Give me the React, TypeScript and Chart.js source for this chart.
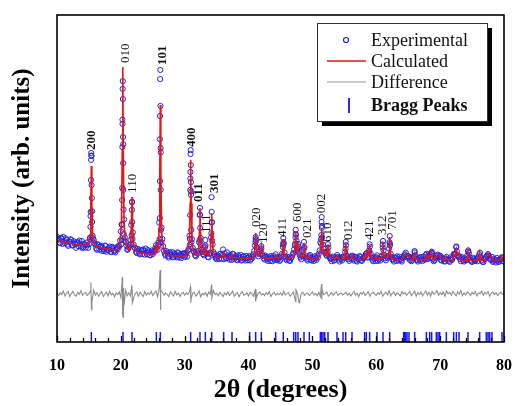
import React, { useEffect, useRef } from "react";
import { Chart, registerables } from "chart.js";

Chart.register(...registerables);

// ---------- data ----------
// observed scan: evenly stepped 2θ scan starting at SCAN_START with SCAN_STEP
const SCAN_START = 10;
const SCAN_STEP = 0.25;
const observedScan = [
  32.2, 31.3, 30.2, 31.6, 32.1, 30.2, 31.2, 29.4, 30.7, 31.2, 29.6, 30.1, 28.8, 30.4, 31.0, 29.4, 28.7, 30.0, 28.9, 29.6,
  29.9, 38.5, 40.0, 31.2, 29.8, 28.2, 29.6, 29.1, 27.9, 28.4, 29.5, 27.6, 28.1, 29.2, 27.5, 28.7, 27.8, 28.9, 28.3, 29.2,
  33.8, 68.0, 37.5, 30.6, 28.2, 28.9, 31.2, 42.8, 29.8, 28.6, 27.2, 28.0, 26.8, 27.9, 28.3, 26.7, 27.4, 28.1, 26.6, 27.5,
  26.9, 27.8, 29.6, 28.2, 36.5, 58.0, 31.5, 27.9, 26.4, 27.3, 25.8, 26.9, 27.5, 26.1, 26.8, 25.9, 27.2, 26.5, 25.7, 26.9,
  26.0, 27.1, 27.9, 32.5, 46.0, 28.8, 27.4, 26.2, 27.0, 30.5, 31.8, 27.6, 26.5, 29.5, 27.0, 25.9, 27.3, 36.5, 27.5, 26.1,
  25.3, 26.4, 26.9, 25.5, 28.3, 27.1, 25.6, 26.5, 25.2, 26.0, 27.0, 25.4, 26.3, 25.0, 25.9, 26.6, 25.1, 26.2, 24.9, 25.7,
  25.8, 24.9, 26.1, 26.8, 29.5, 29.0, 26.2, 26.9, 28.6, 26.4, 25.2, 26.0, 24.8, 25.6, 26.3, 24.7, 25.5, 26.8, 25.0, 25.9,
  25.2, 27.0, 30.0, 26.1, 25.0, 25.8, 24.8, 25.9, 27.2, 29.6, 31.0, 29.2, 26.6, 25.3, 26.4, 29.0, 25.8, 24.9, 26.2, 25.1,
  25.9, 24.8, 25.6, 26.4, 27.0, 30.5, 35.5, 28.6, 27.3, 26.4, 28.9, 25.6, 24.7, 25.8, 25.1, 26.0, 25.9, 24.6, 25.4, 26.1,
  25.7, 29.6, 25.9, 24.8, 25.5, 26.4, 24.9, 25.8, 24.6, 25.3, 26.0, 24.8, 25.6, 26.3, 27.2, 26.0, 29.2, 25.9, 24.7, 25.5,
  25.9, 24.8, 25.4, 26.1, 29.8, 26.6, 25.0, 25.7, 28.6, 27.0, 25.3, 24.6, 25.6, 26.2, 24.9, 25.4, 24.6, 26.0, 26.8, 25.9,
  26.3, 25.1, 24.7, 25.6, 27.4, 25.2, 24.6, 25.5, 26.0, 24.8, 25.3, 26.6, 25.4, 26.2, 25.7, 27.0, 24.7, 25.6, 26.5, 25.9,
  26.4, 24.9, 25.3, 24.6, 26.0, 25.2, 24.5, 25.4, 25.9, 26.8, 29.0, 26.5, 26.2, 24.7, 25.5, 24.6, 25.2, 26.5, 27.2, 25.1,
  24.5, 25.4, 24.8, 25.6, 26.0, 27.3, 25.0, 24.4, 25.3, 26.2, 26.9, 25.8, 25.1, 24.5, 25.4, 24.3, 25.0, 24.6, 25.3, 25.8, 24.6,
];
// interleaved second pass of the scan, starting half a step later
const SCAN2_START = 10.125;
const observedScan2 = [
  31.5, 30.4, 31.9, 30.0, 30.9, 31.7, 29.8, 30.6, 31.4, 29.5, 30.8, 29.9, 30.5, 29.2, 30.1, 30.9, 29.0, 29.8, 30.4, 28.8,
  31.5, 57.0, 31.8, 30.2, 28.6, 29.9, 28.3, 29.4, 28.9, 27.8, 29.3, 28.2, 28.8, 27.6, 29.1, 28.0, 27.4, 28.6, 29.4, 31.0,
  36.0, 60.5, 32.0, 29.5, 28.4, 29.6, 35.8, 33.5, 28.9, 27.6, 28.5, 27.1, 28.2, 26.9, 27.8, 28.6, 26.8, 27.7, 26.5, 28.0,
  27.5, 28.6, 28.9, 30.4, 62.0, 35.0, 29.3, 27.0, 27.8, 26.2, 27.4, 26.6, 25.9, 27.1, 26.3, 27.4, 25.8, 26.9, 26.4, 27.2,
  26.6, 26.1, 28.4, 50.0, 31.5, 27.8, 26.5, 27.4, 27.9, 39.0, 28.2, 26.9, 27.6, 27.2, 26.0, 27.0, 32.0, 29.8, 26.9, 25.6,
  26.2, 25.4, 27.0, 26.6, 25.3, 26.0, 27.4, 25.7, 26.4, 25.1, 26.8, 25.9, 25.2, 26.5, 25.6, 24.9, 26.1, 25.4, 26.3, 25.0,
  26.3, 25.3, 25.8, 27.8, 31.5, 27.0, 27.5, 28.0, 26.9, 25.6, 26.4, 25.3, 26.0, 24.8, 25.7, 26.2, 25.1, 26.0, 25.4, 24.8,
  26.2, 29.0, 27.4, 25.5, 26.0, 24.9, 25.7, 26.6, 28.3, 33.0, 28.0, 27.3, 25.9, 26.3, 28.2, 26.5, 25.3, 25.9, 26.6, 24.9,
  25.4, 26.2, 25.1, 25.9, 28.0, 31.5, 29.8, 27.5, 26.7, 27.6, 26.2, 25.4, 26.1, 24.9, 25.7, 26.6, 25.2, 25.8, 24.9, 25.9,
  27.5, 26.5, 25.3, 26.0, 26.2, 25.4, 26.1, 24.9, 25.7, 26.3, 25.0, 25.6, 26.0, 26.9, 25.8, 27.5, 27.0, 25.2, 25.9, 24.8,
  26.5, 25.5, 24.9, 26.4, 28.0, 25.6, 26.2, 26.3, 30.0, 26.0, 25.2, 25.9, 24.8, 25.5, 26.1, 25.0, 25.7, 26.5, 27.3, 26.2,
  25.8, 25.9, 25.0, 26.2, 26.5, 25.0, 25.8, 24.9, 25.5, 26.1, 25.2, 27.0, 25.5, 26.8, 27.3, 25.4, 25.0, 26.2, 26.7, 26.3,
  25.1, 25.8, 24.7, 25.5, 25.4, 24.8, 25.9, 25.1, 26.9, 27.0, 27.8, 26.0, 25.4, 26.0, 24.9, 25.6, 25.0, 27.6, 25.8, 24.7,
  25.8, 24.9, 25.3, 24.7, 26.8, 25.9, 24.6, 25.5, 25.6, 26.5, 26.4, 25.2, 26.0, 24.8, 25.1, 25.7, 24.5, 25.2, 25.9, 24.7,
];

// extra observed points measured along the steep peak flanks [2θ, intensity]
const observedPeakPoints: [number, number][] = [
  [15.20, 32.0], [15.24, 35.2], [15.28, 39.8], [15.32, 49.5], [15.34, 55.7], [15.36, 57.8], [15.40, 56.9], [15.42, 48.0], [15.45, 44.0], [15.50, 36.7], [15.56, 32.5],
  [20.05, 29.9], [20.12, 31.2], [20.16, 35.8], [20.20, 43.4], [20.22, 47.1], [20.24, 59.6], [20.26, 66.7], [20.28, 77.4], [20.30, 79.8], [20.32, 74.3], [20.34, 62.7], [20.36, 54.7], [20.38, 46.5], [20.42, 40.5], [20.46, 33.0], [20.55, 31.0],
  [21.65, 30.0], [21.70, 32.7], [21.73, 40.4], [21.75, 42.8], [21.78, 36.7], [21.82, 31.5],
  [25.95, 29.8], [26.06, 31.5], [26.10, 37.9], [26.12, 49.2], [26.14, 69.1], [26.16, 80.4], [26.18, 83.2], [26.20, 72.2], [26.22, 59.3], [26.24, 46.5], [26.28, 34.3], [26.34, 30.5],
  [30.78, 29.7], [30.82, 31.5], [30.85, 38.8], [30.87, 46.5], [30.89, 52.0], [30.91, 57.5], [30.93, 58.7], [30.95, 54.1], [30.97, 48.9], [30.99, 45.0], [31.02, 34.3], [31.06, 30.5],
  [32.34, 31.2], [32.37, 38.8], [32.39, 41.0], [32.42, 34.9], [32.46, 30.0],
  [33.20, 29.0], [33.23, 31.2],
  [34.18, 33.3], [34.20, 44.3], [34.22, 39.8], [34.24, 36.7], [34.28, 31.0],
  [41.08, 30.5], [41.11, 32.1], [41.15, 31.0], [42.00, 29.3],
  [45.40, 29.8], [45.44, 31.8], [45.48, 30.5],
  [47.30, 30.0], [47.35, 32.0], [47.38, 34.3], [47.42, 32.8], [47.70, 28.5], [47.75, 30.0],
  [48.65, 28.8], [48.68, 30.6],
  [51.35, 30.0], [51.40, 32.7], [51.43, 36.7], [51.45, 38.2], [51.48, 34.9], [51.52, 32.0],
  [52.44, 29.9], [55.18, 28.5], [55.21, 30.6], [58.90, 28.0], [58.96, 29.9],
  [61.00, 28.9], [61.05, 30.9], [62.06, 30.5], [62.10, 32.4], [62.14, 29.5],
  [66.00, 27.8], [68.70, 27.6], [72.55, 29.2], [74.40, 28.0],
];

// calculated (refined) profile [2θ, intensity]
const calculatedProfile: [number, number][] = [
  [10.0, 31.0], [11.0, 30.6], [12.0, 30.2], [13.0, 29.8], [14.0, 29.5],
  [14.88, 29.7], [15.18, 32.7], [15.30, 42.6], [15.38, 53.8], [15.46, 42.6], [15.58, 32.7], [15.88, 29.6],
  [16.5, 29.0], [17.5, 28.6], [18.5, 28.3], [19.3, 28.0],
  [19.80, 29.5], [20.10, 36.2], [20.22, 58.8], [20.30, 84.1], [20.38, 58.8], [20.50, 36.2], [20.80, 29.4],
  [21.25, 28.0], [21.55, 30.0], [21.67, 36.7], [21.75, 44.3], [21.83, 36.7], [21.95, 30.0], [22.25, 28.0],
  [22.8, 27.3], [23.8, 27.1], [24.8, 26.9],
  [25.30, 27.0], [25.50, 29.5], [25.68, 27.6],
  [25.86, 28.5], [25.98, 33.7], [26.10, 51.9], [26.18, 72.5], [26.26, 51.9], [26.38, 33.7], [26.68, 28.2],
  [27.2, 26.6], [28.2, 26.4], [29.2, 26.3], [30.0, 26.2],
  [30.43, 27.1], [30.73, 30.6], [30.85, 42.4], [30.93, 55.7], [31.01, 42.4], [31.13, 30.6], [31.43, 27.1],
  [31.95, 26.6], [32.19, 28.3], [32.31, 34.3], [32.39, 41.0], [32.47, 34.3], [32.59, 28.3], [32.85, 26.8],
  [33.05, 26.8], [33.15, 27.8], [33.23, 29.7], [33.31, 27.8], [33.45, 27.0],
  [33.80, 26.5], [34.02, 28.0], [34.14, 33.4], [34.22, 39.4], [34.30, 33.4], [34.42, 28.0], [34.72, 26.4],
  [35.2, 25.9], [35.9, 25.9], [36.10, 27.2], [36.3, 25.9], [37.2, 25.8], [37.41, 26.8], [37.6, 25.8],
  [38.5, 25.7], [39.5, 25.6], [40.3, 25.6],
  [40.75, 26.0], [40.95, 27.5], [41.04, 30.0], [41.11, 33.3], [41.18, 30.0], [41.30, 27.5],
  [41.55, 26.5], [41.85, 27.2], [41.94, 28.0], [42.00, 29.1], [42.08, 27.6], [42.30, 25.9],
  [43.0, 25.5], [43.6, 25.5], [44.05, 25.6], [44.24, 26.6], [44.45, 25.6],
  [45.05, 25.8], [45.28, 27.2], [45.37, 29.3], [45.44, 31.5], [45.51, 29.3], [45.62, 27.0], [45.90, 25.7],
  [46.3, 25.4], [46.8, 25.8], [47.06, 27.3], [47.20, 27.8], [47.30, 30.5], [47.38, 33.9], [47.46, 30.5], [47.58, 28.5], [47.74, 29.5], [47.85, 27.2], [48.1, 26.0],
  [48.45, 25.9], [48.60, 27.5], [48.68, 30.3], [48.76, 27.5], [48.95, 26.0],
  [49.35, 25.5], [49.52, 26.3], [49.7, 25.5], [50.2, 25.3], [50.6, 25.3],
  [50.9, 25.7], [51.15, 27.0], [51.30, 29.5], [51.38, 31.8], [51.45, 34.6], [51.52, 31.5], [51.66, 28.5], [51.80, 27.5], [51.92, 27.6], [52.10, 26.5],
  [52.30, 26.6], [52.44, 29.7], [52.55, 27.2], [52.8, 25.8],
  [53.65, 25.4], [53.85, 26.3], [54.05, 25.4], [54.6, 25.3], [54.79, 26.0], [54.95, 25.4],
  [55.08, 26.5], [55.21, 30.3], [55.32, 26.8], [55.55, 25.4],
  [56.0, 25.3], [56.20, 26.5], [56.4, 25.3], [57.0, 25.2], [57.5, 25.2],
  [57.95, 25.3], [58.18, 26.2], [58.30, 25.8], [58.44, 27.5], [58.60, 26.0], [58.85, 26.8], [58.96, 29.7], [59.07, 26.8], [59.3, 25.4],
  [59.95, 25.3], [60.11, 26.3], [60.3, 25.3],
  [60.85, 25.5], [60.97, 27.3], [61.05, 30.6], [61.13, 27.3], [61.35, 25.8],
  [61.9, 26.0], [62.02, 28.0], [62.10, 32.1], [62.18, 28.0], [62.4, 25.6],
  [63.0, 25.2], [63.5, 25.1],
  [64.0, 25.2], [64.29, 26.0], [64.45, 26.4], [64.60, 27.0], [64.81, 26.5], [65.12, 26.0], [65.4, 25.2],
  [65.8, 25.2], [66.01, 27.0], [66.2, 25.2], [66.8, 25.1],
  [67.6, 25.1], [67.84, 26.8], [68.0, 25.6], [68.36, 26.4], [68.50, 26.0], [68.67, 27.5], [68.85, 25.4],
  [69.2, 25.2], [69.40, 26.4], [69.67, 26.6], [69.93, 26.8], [70.2, 25.2],
  [70.8, 25.1], [70.97, 26.0], [71.15, 25.1], [71.5, 25.1],
  [71.95, 25.2], [72.12, 26.8], [72.30, 26.3], [72.54, 28.5], [72.75, 26.5], [72.96, 26.8], [73.2, 25.1],
  [73.7, 25.0], [74.15, 25.0], [74.36, 27.8], [74.55, 25.1], [75.2, 25.0],
  [76.0, 25.0], [76.19, 27.2], [76.4, 25.0],
  [77.05, 25.0], [77.23, 26.3], [77.50, 27.0], [77.76, 26.5], [78.12, 26.0], [78.35, 25.0],
  [79.0, 25.0], [79.5, 25.0], [79.69, 26.0], [79.9, 25.0], [80.0, 25.0],
];

// difference curve (observed - calculated, offset), same scan grid as observedScan
const differenceScan = [
  15.3, 14.2, 15.0, 14.5, 15.6, 14.1, 14.9, 15.4, 13.9, 14.8, 15.5, 14.4, 14.0, 15.2, 14.6, 15.7, 14.3, 14.9, 15.1, 14.2,
  14.8, 15.6, 12.6, 15.9, 14.3, 15.1, 14.0, 14.7, 15.4, 13.9, 14.6, 15.2, 14.1, 15.5, 14.4, 14.9, 13.8, 15.0, 14.5, 15.3,
  13.6, 17.5, 11.2, 15.8, 14.2, 15.0, 14.1, 15.9, 13.4, 14.8, 15.3, 14.0, 15.2, 14.6, 13.9, 15.4, 14.3, 15.0, 14.5, 15.5,
  14.2, 14.9, 15.6, 13.8, 16.4, 12.0, 15.2, 14.3, 15.0, 14.6, 13.9, 15.3, 14.7, 14.1, 15.5, 14.4, 15.0, 13.9, 14.8, 15.2,
  14.3, 15.1, 14.5, 15.4, 13.2, 14.9, 15.2, 14.0, 14.7, 15.6, 13.8, 14.9, 14.4, 15.1, 14.0, 15.3, 14.6, 14.2, 15.8, 14.5,
  14.9, 14.1, 15.2, 14.6, 13.9, 15.0, 14.4, 15.3, 14.2, 14.8, 15.5, 14.0, 14.7, 15.1, 13.8, 14.9, 15.4, 14.3, 14.6, 15.0,
  14.1, 15.2, 14.7, 14.0, 15.6, 13.6, 14.9, 15.3, 14.4, 14.8, 14.2, 15.1, 14.5, 15.4, 13.9, 14.7, 15.2, 14.3, 14.9, 14.5,
  15.0, 14.2, 15.5, 14.4, 14.8, 15.1, 14.0, 14.6, 15.3, 13.4, 15.7, 14.1, 12.4, 14.9, 15.2, 14.3, 14.8, 15.0, 14.2, 14.7,
  15.3, 14.4, 14.9, 14.1, 15.2, 13.9, 16.0, 14.5, 14.8, 15.3, 14.0, 14.6, 15.1, 14.3, 14.9, 15.4, 14.2, 14.7, 15.0, 14.4,
  14.8, 15.2, 14.3, 15.0, 14.1, 14.7, 15.5, 14.4, 14.9, 13.9, 15.1, 14.6, 15.3, 14.2, 14.8, 15.4, 14.0, 14.9, 15.2, 14.5,
  14.3, 15.1, 14.6, 15.5, 14.0, 14.8, 15.2, 14.4, 15.7, 14.1, 14.9, 15.3, 14.2, 15.0, 14.6, 14.1, 15.4, 14.7, 15.1, 14.3,
  14.9, 15.5, 14.2, 14.8, 15.6, 14.0, 15.1, 14.5, 15.3, 14.1, 14.9, 15.6, 14.4, 15.2, 14.0, 15.4, 14.6, 15.0, 15.7, 14.3,
  15.1, 14.5, 15.3, 14.0, 15.6, 14.7, 15.2, 14.3, 15.5, 14.8, 14.1, 15.4, 14.6, 15.8, 14.2, 15.0, 14.4, 15.3, 14.9, 14.2,
  15.2, 14.6, 15.5, 14.1, 15.0, 14.8, 15.6, 14.3, 15.1, 14.7, 15.4, 14.0, 14.9, 15.3, 14.5, 15.1, 14.2, 14.8, 15.2, 14.6, 14.9,
];

// sharp residual spikes at the strong reflections [2θ, difference]
const differenceSpikes: [number, number][] = [
  [15.30, 18.3], [15.40, 9.9], [15.46, 13.5],
  [20.24, 19.9], [20.30, 8.5], [20.34, 7.6], [20.42, 16.5],
  [21.72, 17.4], [21.80, 12.0],
  [26.14, 22.0], [26.20, 9.8], [26.26, 16.0],
  [30.90, 16.8], [30.96, 12.0],
  [34.20, 17.6], [34.25, 13.5],
  [41.10, 12.6], [41.14, 16.2],
  [47.36, 12.3], [47.42, 16.0], [47.90, 12.0],
  [51.42, 17.7], [51.48, 13.0],
];

// Bragg reflection positions (2θ)
const braggPositions = [
  15.38, 20.34, 21.75, 25.56, 26.18, 30.93, 32.39, 33.23, 34.22, 36.10, 37.41, 40.17, 41.11, 42.00,
  44.24, 45.44, 47.06, 47.38, 47.74, 48.68, 49.52, 51.24, 51.45, 51.66, 51.92, 52.44, 53.85, 54.79,
  55.21, 56.20, 58.18, 58.44, 58.96, 60.11, 61.05, 62.10, 64.29, 64.45, 64.60, 64.81, 65.12, 66.01,
  67.84, 68.36, 68.67, 69.40, 69.67, 69.93, 70.97, 72.12, 72.54, 72.96, 74.36, 76.19, 77.23, 77.50,
  77.76, 78.12, 79.69,
];
const BRAGG_LEVEL = 1.55;

// Miller-index annotations: label, 2θ, intensity level of the label foot
const peakLabels = ["200", "010", "110", "101", "400", "011", "111", "301", "020", "120", "411", "600", "021", "002", "610", "012", "421", "312", "701"];
const peakLabelTheta = [15.48, 20.8, 21.9, 26.6, 31.1, 32.2, 33.5, 34.7, 41.2, 42.3, 45.4, 47.6, 49.3, 51.5, 52.4, 55.6, 59.0, 61.05, 62.6];
const peakLabelLevel = [58.7, 85.3, 45.6, 84.7, 59.6, 42.8, 33.3, 45.6, 35.2, 30.3, 32.1, 36.7, 31.8, 39.4, 30.6, 31.2, 31.2, 32.7, 34.3];
const boldLabels = ["200", "101", "400", "011", "301"];

const xTickValues = [10, 20, 30, 40, 50, 60, 70, 80];
const legendItems = ["Experimental", "Calculated", "Difference", "Bragg Peaks"];

const BLUE = "rgb(35,35,225)";
const RED = "rgb(228,22,22)";
const GRAY = "rgb(140,140,140)";
const SERIF = '"Liberation Serif", "Times New Roman", serif';

const decorPlugin = {
  id: "decor",
  afterDatasetsDraw(chart: any) {
    const { ctx, chartArea: a, scales } = chart;
    const x = scales.x;
    const y = scales.y;
    ctx.save();

    // peak annotations (rotated)
    ctx.fillStyle = "#111";
    peakLabels.forEach((lab, i) => {
      const px = x.getPixelForValue(peakLabelTheta[i]);
      const py = y.getPixelForValue(peakLabelLevel[i]);
      ctx.save();
      ctx.translate(px, py);
      ctx.rotate(-Math.PI / 2);
      ctx.font = `${boldLabels.includes(lab) ? "bold " : ""}13px ${SERIF}`;
      ctx.textAlign = "left";
      ctx.textBaseline = "middle";
      ctx.fillText(lab, 0, 0);
      ctx.restore();
    });

    // frame
    ctx.strokeStyle = "#000";
    ctx.lineWidth = 1.6;
    ctx.strokeRect(a.left, a.top, a.right - a.left, a.bottom - a.top);

    // inward ticks on the 2θ axis (major every 10, minor every 2)
    ctx.lineWidth = 1.3;
    for (let v = x.min; v <= x.max + 1e-9; v += 2) {
      const px = Math.round(x.getPixelForValue(v)) + 0.5;
      const len = xTickValues.includes(v) ? 6 : 4;
      ctx.beginPath();
      ctx.moveTo(px, a.bottom);
      ctx.lineTo(px, a.bottom - len);
      ctx.stroke();
    }

    // legend box with drop shadow
    const W = 170, H = 98;
    const L = a.right - 187, T = a.top + 8;
    ctx.fillStyle = "#000";
    ctx.fillRect(L + 5, T + 5, W, H);
    ctx.fillStyle = "#fff";
    ctx.fillRect(L, T, W, H);
    ctx.strokeStyle = "#333";
    ctx.lineWidth = 1;
    ctx.strokeRect(L + 0.5, T + 0.5, W, H);

    const rows = [T + 17, T + 38, T + 59, T + 82];
    ctx.strokeStyle = BLUE;
    ctx.lineWidth = 1.2;
    ctx.beginPath();
    ctx.arc(L + 29, rows[0], 2.5, 0, Math.PI * 2);
    ctx.stroke();
    ctx.strokeStyle = RED;
    ctx.lineWidth = 1.5;
    ctx.beginPath();
    ctx.moveTo(L + 10, rows[1]);
    ctx.lineTo(L + 49, rows[1]);
    ctx.stroke();
    ctx.strokeStyle = "rgb(185,185,185)";
    ctx.beginPath();
    ctx.moveTo(L + 10, rows[2]);
    ctx.lineTo(L + 49, rows[2]);
    ctx.stroke();
    ctx.strokeStyle = "rgb(20,20,255)";
    ctx.lineWidth = 1.8;
    ctx.beginPath();
    ctx.moveTo(L + 32, rows[3] - 7);
    ctx.lineTo(L + 32, rows[3] + 8);
    ctx.stroke();

    ctx.fillStyle = "#111";
    ctx.textAlign = "left";
    ctx.textBaseline = "middle";
    legendItems.forEach((t, i) => {
      ctx.font = `${i === 3 ? "bold " : ""}18px ${SERIF}`;
      ctx.fillText(t, L + 54, rows[i] + 1);
    });
    ctx.restore();
  },
};

export default function App() {
  const ref = useRef<HTMLCanvasElement | null>(null);

  useEffect(() => {
    if (!ref.current) return;

    const observed = observedScan
      .map((v, i) => ({ x: SCAN_START + i * SCAN_STEP, y: v }))
      .concat(observedScan2.map((v, i) => ({ x: SCAN2_START + i * SCAN_STEP, y: v })))
      .concat(observedPeakPoints.map(([t, v]) => ({ x: t, y: v })));
    const calculated = calculatedProfile.map(([t, v]) => ({ x: t, y: v }));
    const difference = differenceScan
      .map((v, i) => ({ x: SCAN_START + i * SCAN_STEP, y: v }))
      .concat(differenceSpikes.map(([t, v]) => ({ x: t, y: v })))
      .sort((p, q) => p.x - q.x);
    const bragg = braggPositions.map((t) => ({ x: t, y: BRAGG_LEVEL }));

    const chart = new Chart(ref.current, {
      type: "scatter",
      data: {
        datasets: [
          {
            label: "Calculated",
            data: calculated,
            showLine: true,
            borderColor: RED,
            borderWidth: 1.6,
            pointRadius: 0,
            order: 0,
          },
          {
            label: "Experimental",
            data: observed,
            showLine: false,
            pointStyle: "circle",
            pointRadius: 2.6,
            borderWidth: 1,
            borderColor: BLUE,
            backgroundColor: "rgba(0,0,0,0)",
            order: 1,
          },
          {
            label: "Difference",
            data: difference,
            showLine: true,
            borderColor: GRAY,
            borderWidth: 1.1,
            pointRadius: 0,
            order: 2,
          },
          {
            label: "Bragg Peaks",
            data: bragg,
            showLine: false,
            pointStyle: "line",
            rotation: 90,
            pointRadius: 5,
            borderColor: "rgb(20,20,255)",
            borderWidth: 1.5,
            order: 3,
          },
        ],
      },
      options: {
        animation: false,
        responsive: true,
        maintainAspectRatio: false,
        events: [],
        layout: { padding: { left: 0, top: 15, right: 11, bottom: 0 } },
        plugins: {
          legend: { display: false },
          tooltip: { enabled: false },
        },
        scales: {
          x: {
            type: "linear",
            position: "bottom",
            min: 10,
            max: 80,
            afterFit: (s: any) => {
              s.height = 64;
              s.paddingLeft = 0;
              s.paddingRight = 0;
            },
            afterBuildTicks: (s: any) => {
              s.ticks = xTickValues.map((v) => ({ value: v }));
            },
            ticks: {
              color: "#000",
              padding: 14,
              font: { family: SERIF, size: 16, weight: "bold" },
            },
            grid: { display: false, drawTicks: false },
            border: { display: false },
            title: {
              display: true,
              text: "2θ (degrees)",
              color: "#000",
              font: { family: SERIF, size: 26, weight: "bold" },
              padding: { top: 0, bottom: 0 },
            },
          },
          y: {
            type: "linear",
            min: 0,
            max: 100,
            afterFit: (s: any) => {
              s.width = 57;
            },
            ticks: { display: false },
            grid: { display: false, drawTicks: false },
            border: { display: false },
            title: {
              display: true,
              text: "Intensity (arb. units)",
              color: "#000",
              font: { family: SERIF, size: 25, weight: "bold" },
              padding: { top: 8, bottom: 0 },
            },
          },
        },
      },
      plugins: [decorPlugin],
    });

    return () => chart.destroy();
  }, []);

  return (
    <div style={{ position: "absolute", left: 0, top: 0, width: 515, height: 406, background: "#fff" }}>
      <canvas ref={ref} />
    </div>
  );
}
